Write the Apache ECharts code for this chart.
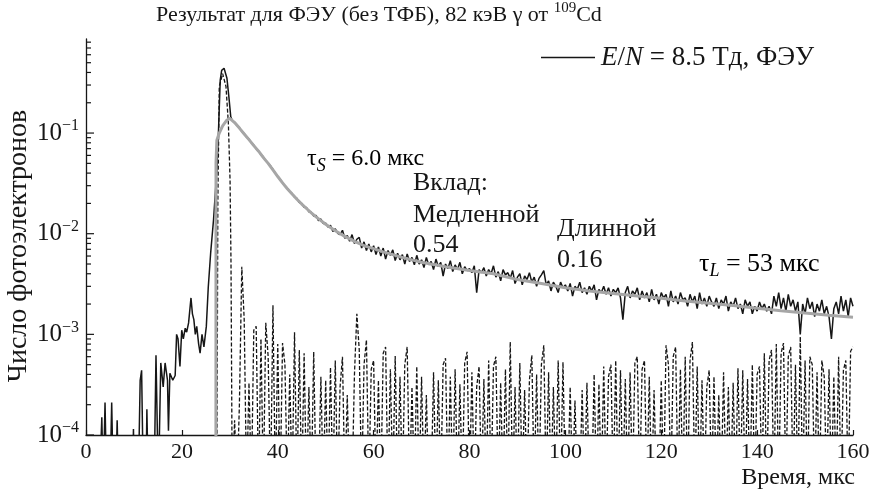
<!DOCTYPE html>
<html>
<head>
<meta charset="utf-8">
<script src="https://cdn.jsdelivr.net/npm/echarts@6/dist/echarts.min.js"></script>
<style>
  html, body { margin: 0; padding: 0; background: #fff; }
  #chart { width: 873px; height: 492px; }
</style>
</head>
<body>
<div id="chart"></div>
<script>
const FONT = '"Liberation Serif", "DejaVu Serif", serif';
const INK = '#161616';
const L = 3e-5; // reading that sits below the 1e-4 floor of the axis

// y axis ticks (log scale)
const yMajor = [1e-4, 1e-3, 1e-2, 1e-1];
const yMinor = [
  2e-4, 3e-4, 4e-4, 5e-4, 6e-4, 7e-4, 8e-4, 9e-4,
  2e-3, 3e-3, 4e-3, 5e-3, 6e-3, 7e-3, 8e-3, 9e-3,
  2e-2, 3e-2, 4e-2, 5e-2, 6e-2, 7e-2, 8e-2, 9e-2,
  0.2, 0.3, 0.4, 0.5, 0.6, 0.7, 0.8
];

// measured PMT signal, rising part [time, value]
const measuredEarly = [
  [2.8, L], [3.3, 1.5e-4], [3.6, L], [3.97, 2.1e-4], [4.3, L], [5.0, L], [5.36, 2.1e-4], [5.7, L],
  [6.2, L], [6.5, 1.4e-4], [6.8, L], [9.7, L], [9.9, 1.15e-4], [10.1, L], [10.9, L], [11.3, 3.5e-4],
  [11.6, 4.4e-4], [11.97, L], [12.5, L], [12.7, 1.8e-4], [13.0, L], [14.2, L], [14.6, 6.2e-4], [15.1, L],
  [15.6, 5.2e-4], [16.1, 3.0e-4], [16.5, 5.2e-4], [17.0, 3.5e-4], [17.2, 1.1e-4], [17.5, 4.1e-4],
  [18.1, 3.5e-4], [18.6, 3.9e-4], [18.9, 1.0e-3], [19.2, 9e-4], [19.6, 4.8e-4], [19.97, 1.1e-3],
  [20.3, 9e-4], [20.7, 1.15e-3], [21.0, 1.05e-3], [21.4, 1.3e-3], [21.9, 2.3e-3], [22.2, 1.6e-3],
  [22.5, 1.4e-3], [22.8, 1.0e-3], [23.1, 1.2e-3], [23.5, 8e-4], [23.8, 6.5e-4], [24.2, 1.0e-3],
  [24.6, 7.5e-4], [25.1, 1.2e-3], [25.5, 2.9e-3], [26.0, 6.4e-3], [26.6, 1.37e-2], [27.3, 0.043],
  [27.6, 0.093], [28.0, 0.335], [28.3, 0.42], [28.8, 0.44], [29.4, 0.35], [29.8, 0.23], [30.2, 0.145]
];

// measured PMT signal, decay part: one reading every 0.5 us from 30.5 us
const decayStart = 30.5;
const decayStep = 0.5;
const measuredDecay = [
  0.134, 0.128, 0.119, 0.113, 0.104, 0.099, 0.091, 0.087, 0.080, 0.076,
  0.070, 0.066, 0.061, 0.058, 0.053, 0.050, 0.047, 0.0435, 0.040, 0.0368,
  0.0345, 0.0322, 0.0296, 0.0283, 0.0262, 0.0250, 0.0231, 0.0224, 0.0204, 0.0200,
  0.0183, 0.0182, 0.0165, 0.0163, 0.0150, 0.0152, 0.0135, 0.0140, 0.0126, 0.0127,
  0.0116, 0.0121, 0.0105, 0.0112, 0.0101, 0.0098, 0.0108, 0.0090, 0.0096, 0.0084,
  0.0098, 0.0080, 0.0088, 0.0092, 0.0072, 0.0083, 0.0068, 0.0079, 0.0066, 0.0076,
  0.0062, 0.0074, 0.0060, 0.0072, 0.0056, 0.0068, 0.0061, 0.0069, 0.0054, 0.0064,
  0.0055, 0.0062, 0.0050, 0.0063, 0.0053, 0.0058, 0.0049, 0.0061, 0.0050, 0.0055,
  0.0046, 0.0058, 0.0049, 0.0053, 0.0044, 0.0056, 0.0047, 0.0052, 0.0038, 0.0050,
  0.0045, 0.0054, 0.0042, 0.0049, 0.0044, 0.0052, 0.0040, 0.0047, 0.0043, 0.0045,
  0.0041, 0.0048, 0.0026, 0.0044, 0.0041, 0.0046, 0.0038, 0.0044, 0.0040, 0.0048,
  0.0037, 0.0042, 0.0034, 0.0044, 0.0039, 0.0041, 0.0036, 0.0043, 0.0032, 0.0037,
  0.0040, 0.0031, 0.0038, 0.0035, 0.0041, 0.0033, 0.0037, 0.0030, 0.0036, 0.0039,
  0.0043, 0.0031, 0.0034, 0.0027, 0.0033, 0.0030, 0.0026, 0.0033, 0.0029, 0.0031,
  0.0027, 0.0032, 0.0024, 0.0030, 0.0028, 0.0033, 0.0026, 0.0029, 0.0025, 0.0030,
  0.0027, 0.0031, 0.0022, 0.0028, 0.0026, 0.0030, 0.0025, 0.0029, 0.0024, 0.0028,
  0.0026, 0.0029, 0.0023, 0.0014, 0.0026, 0.0030, 0.0023, 0.0027, 0.0025, 0.0029,
  0.0022, 0.0027, 0.0023, 0.0026, 0.0021, 0.0028, 0.0022, 0.0025, 0.0020, 0.0026,
  0.0023, 0.0025, 0.0019, 0.0027, 0.0021, 0.0024, 0.0020, 0.0026, 0.0022, 0.0023,
  0.0019, 0.0025, 0.0021, 0.0024, 0.0018, 0.0026, 0.0020, 0.0023, 0.0019, 0.0024,
  0.0021, 0.0019, 0.0023, 0.0018, 0.0022, 0.0020, 0.0024, 0.0017, 0.0021, 0.0019,
  0.0023, 0.0018, 0.0020, 0.0016, 0.0022, 0.0019, 0.0021, 0.0016, 0.0019, 0.0017,
  0.0021, 0.0018, 0.0020, 0.0017, 0.0019, 0.0016, 0.0024, 0.0019, 0.0026, 0.0018,
  0.0023, 0.0017, 0.0025, 0.0019, 0.0022, 0.0017, 0.0021, 0.0010, 0.0020, 0.0016,
  0.0023, 0.0018, 0.0021, 0.0015, 0.0020, 0.0017, 0.0022, 0.0016, 0.0019, 0.0015,
  0.0009, 0.0018, 0.0021, 0.0016, 0.0024, 0.0017, 0.0022, 0.0015, 0.0023, 0.0019
];

// dashed curve: fast peak [time, value], then the residue on the same 0.5 us grid
const residualPeak = [
  [27.3, L], [27.5, 0.02], [27.8, 0.29], [28.5, 0.39], [29.2, 0.29], [29.7, 0.125],
  [30.05, 0.034], [30.25, 0.005]
];
const residual = [
  L, 1.4e-4, L, 2e-4, 4.7e-3, 1.4e-3, L, 3.3e-4, L, 1.1e-3,
  1.2e-3, L, 9e-4, L, 1.3e-3, 6e-4, L, 1.95e-3, L, 8e-4,
  L, 8.2e-4, 5e-4, L, 4e-4, L, 1.05e-3, L, 7e-4, L,
  6.5e-4, L, 3e-4, L, 6.7e-4, L, L, 3.8e-4, L, 3.5e-4,
  L, 4.7e-4, L, 5.5e-4, L, 3e-4, 6e-4, L, 2.5e-4, L,
  L, 4e-4, 1.6e-3, 7e-4, L, 5e-4, 8.8e-4, L, 4.5e-4, 5.5e-4,
  L, 3.5e-4, L, 6.5e-4, 7.5e-4, L, 4.5e-4, L, 6.1e-4, L,
  3.8e-4, L, 5e-4, 7.5e-4, L, 3e-4, L, 4.8e-4, L, 3.8e-4,
  L, 2.5e-4, L, L, 4.2e-4, L, 3.5e-4, L, 5e-4, 5.8e-4,
  L, 3.8e-4, L, 4.5e-4, L, 3.2e-4, L, 5.2e-4, 6.7e-4, L,
  4.2e-4, L, 3e-4, 4.8e-4, L, 3.6e-4, L, 5.5e-4, L, 4.8e-4,
  6e-4, L, 3.3e-4, L, 4.5e-4, L, 8.4e-4, L, 3e-4, L,
  5.2e-4, L, 2.8e-4, L, 3.5e-4, 6.2e-4, L, 4e-4, L, 5e-4,
  7.8e-4, L, 4.2e-4, L, 3e-4, L, 5.5e-4, L, 5.3e-4, L,
  L, 3e-4, L, 2.2e-4, L, L, 2.8e-4, L, 3.3e-4, L,
  L, 4e-4, L, 3.2e-4, L, 4.8e-4, L, 3.8e-4, 5e-4, L,
  5.5e-4, L, 4.4e-4, L, 3.6e-4, L, 4.2e-4, L, 5.2e-4, 6e-4,
  L, 4.5e-4, 5.5e-4, L, 3.8e-4, L, 2.8e-4, L, L, 3.5e-4,
  L, 7.8e-4, 5e-4, L, 6e-4, 7.5e-4, L, 4.5e-4, L, 6e-4,
  L, 5.5e-4, 8.4e-4, L, 4.8e-4, L, 3.5e-4, L, 3e-4, 4.4e-4,
  L, 3.8e-4, L, 2.5e-4, L, 4.2e-4, L, 3e-4, L, 3.3e-4,
  L, 4.6e-4, L, 4.4e-4, L, 3.6e-4, L, 5e-4, L, 4e-4,
  4.8e-4, L, 6.5e-4, L, 5.5e-4, 7e-4, L, 8e-4, L, 6.5e-4,
  8.2e-4, L, 6e-4, 7.5e-4, L, 5e-4, L, 9.5e-4, L, 5.5e-4,
  L, 6e-4, 5e-4, L, 4.2e-4, L, 5.5e-4, 3.8e-4, L, 4.5e-4,
  L, 3.8e-4, L, 6e-4, L, 4.4e-4, 5.5e-4, L, 6.8e-4, 7.5e-4
];

// two-exponent fit (grey) [time, value]
const fitCurve = [
  [27.1, L], [27.12, 0.05], [27.3, 0.085], [27.8, 0.1], [28.5, 0.118], [29.3, 0.133], [30.0, 0.140],
  [31, 0.127], [32, 0.112], [33, 0.098], [34, 0.086], [35, 0.075], [36, 0.066], [37, 0.057],
  [38, 0.050], [39, 0.043], [40, 0.037], [41, 0.032], [42, 0.028], [43, 0.0248], [44, 0.0220],
  [45, 0.0197], [46, 0.0178], [47, 0.0161], [48, 0.0147], [49, 0.0135], [50, 0.0124], [52, 0.0107],
  [54, 0.0094], [56, 0.0084], [58, 0.0076], [60, 0.0071], [62, 0.0066], [64, 0.0062], [66, 0.0058],
  [68, 0.0055], [70, 0.0052], [75, 0.0047], [80, 0.0043], [85, 0.0040], [90, 0.0035], [95, 0.0032],
  [100, 0.0029], [105, 0.0027], [110, 0.00255], [115, 0.0024], [120, 0.00228], [125, 0.00215],
  [130, 0.00204], [135, 0.00193], [140, 0.00182], [145, 0.00172], [150, 0.00163], [155, 0.00155],
  [160, 0.00148]
];

const gridTimes = measuredDecay.map((_, i) => decayStart + i * decayStep);
const measuredData = measuredEarly.concat(measuredDecay.map((v, i) => [gridTimes[i], v]));
const residualData = residualPeak.concat(residual.map((v, i) => [gridTimes[i], v]));
const tickData = yMajor.map(v => [0, v, 1]).concat(yMinor.map(v => [0, v, 0]));

const txt = { fontFamily: FONT, color: INK, fontWeight: 'normal' };
const noteFont = '26px ' + FONT;

const chart = echarts.init(document.getElementById('chart'), null, { renderer: 'canvas' });
chart.setOption({
  animation: false,
  backgroundColor: '#fff',
  title: {
    text: '{t|Результат для ФЭУ (без ТФБ), 82 кэВ γ от }{s|109}{t|Cd}',
    left: 156,
    top: 0,
    padding: [1, 0, 0, 0],
    textStyle: {
      fontWeight: 'normal',
      rich: {
        t: { ...txt, fontSize: 22, lineHeight: 28 },
        s: { ...txt, fontSize: 15, lineHeight: 15, verticalAlign: 'top' }
      }
    }
  },
  legend: {
    data: [{ name: 'measured', icon: 'rect' }],
    left: 536,
    top: 39,
    itemWidth: 54,
    itemHeight: 1.5,
    itemGap: 0,
    selectedMode: false,
    formatter: () => '{i|E}{n|/}{i|N}{n| = 8.5 Тд, ФЭУ}',
    textStyle: {
      padding: [0, 0, 0, 1],
      rich: {
        i: { ...txt, fontSize: 27, fontStyle: 'italic' },
        n: { ...txt, fontSize: 27 }
      }
    }
  },
  grid: { left: 86, right: 20, top: 39, bottom: 57, containLabel: false },
  xAxis: {
    type: 'value',
    min: 0,
    max: 160,
    interval: 20,
    splitLine: { show: false },
    axisLine: { lineStyle: { color: INK, width: 1.3 } },
    axisTick: { inside: true, length: 5, lineStyle: { color: INK, width: 1.2 } },
    axisLabel: { ...txt, fontSize: 22, margin: 6 }
  },
  yAxis: {
    type: 'log',
    logBase: 10,
    min: 1e-4,
    max: 0.86,
    splitLine: { show: false },
    axisLine: { show: true, lineStyle: { color: INK, width: 1.3 } },
    axisTick: { show: false },
    axisLabel: {
      margin: 7,
      formatter: v => {
        const p = Math.log10(v);
        if (Math.abs(p - Math.round(p)) > 1e-6) return '';
        return '{b|10}{s|−' + Math.abs(Math.round(p)) + '}';
      },
      rich: {
        b: { ...txt, fontSize: 25, lineHeight: 30 },
        s: { ...txt, fontSize: 16, lineHeight: 16, verticalAlign: 'top' }
      }
    }
  },
  graphic: [
    {
      type: 'text', x: 19, y: 246, rotation: Math.PI / 2,
      style: { text: 'Число фотоэлектронов', font: '28px ' + FONT, fill: INK, textAlign: 'center', textVerticalAlign: 'middle' }
    },
    {
      type: 'text', x: 855, y: 478,
      style: { text: 'Время, мкс', font: '24px ' + FONT, fill: INK, textAlign: 'right', textVerticalAlign: 'middle' }
    },
    {
      type: 'text', x: 307, y: 159,
      style: {
        text: '{n|τ}{i|S}{n| = 6.0 мкс}', textVerticalAlign: 'middle',
        rich: {
          n: { ...txt, fontSize: 24, lineHeight: 32 },
          i: { ...txt, fontSize: 18, fontStyle: 'italic', lineHeight: 18, verticalAlign: 'bottom' }
        }
      }
    },
    { type: 'text', x: 413, y: 183, style: { text: 'Вклад:', font: noteFont, fill: INK, textVerticalAlign: 'middle' } },
    { type: 'text', x: 413, y: 215, style: { text: 'Медленной', font: noteFont, fill: INK, textVerticalAlign: 'middle' } },
    { type: 'text', x: 413, y: 245, style: { text: '0.54', font: noteFont, fill: INK, textVerticalAlign: 'middle' } },
    { type: 'text', x: 557, y: 229, style: { text: 'Длинной', font: noteFont, fill: INK, textVerticalAlign: 'middle' } },
    { type: 'text', x: 557, y: 260, style: { text: '0.16', font: noteFont, fill: INK, textVerticalAlign: 'middle' } },
    {
      type: 'text', x: 699, y: 264,
      style: {
        text: '{n|τ}{i|L}{n| = 53 мкс}', textVerticalAlign: 'middle',
        rich: {
          n: { ...txt, fontSize: 26, lineHeight: 32 },
          i: { ...txt, fontSize: 18, fontStyle: 'italic', lineHeight: 18, verticalAlign: 'bottom' }
        }
      }
    }
  ],
  series: [
    {
      name: 'measured',
      type: 'line',
      data: measuredData,
      showSymbol: false,
      color: INK,
      lineStyle: { color: INK, width: 1.5 },
      z: 2
    },
    {
      name: 'residual',
      type: 'line',
      data: residualData,
      showSymbol: false,
      lineStyle: { color: INK, width: 1.3, type: [4, 2] },
      z: 3
    },
    {
      name: 'fit',
      type: 'line',
      data: fitCurve,
      showSymbol: false,
      lineStyle: { color: '#a6a6a6', width: 3 },
      z: 4
    },
    {
      name: 'yTicks',
      type: 'custom',
      silent: true,
      z: 6,
      data: tickData,
      renderItem: (params, api) => {
        const p = api.coord([0, api.value(1)]);
        const len = api.value(2) ? 8 : 5;
        return {
          type: 'line',
          shape: { x1: p[0], y1: p[1], x2: p[0] + len, y2: p[1] },
          style: { stroke: INK, lineWidth: 1.2 }
        };
      }
    }
  ]
});
</script>
</body>
</html>
